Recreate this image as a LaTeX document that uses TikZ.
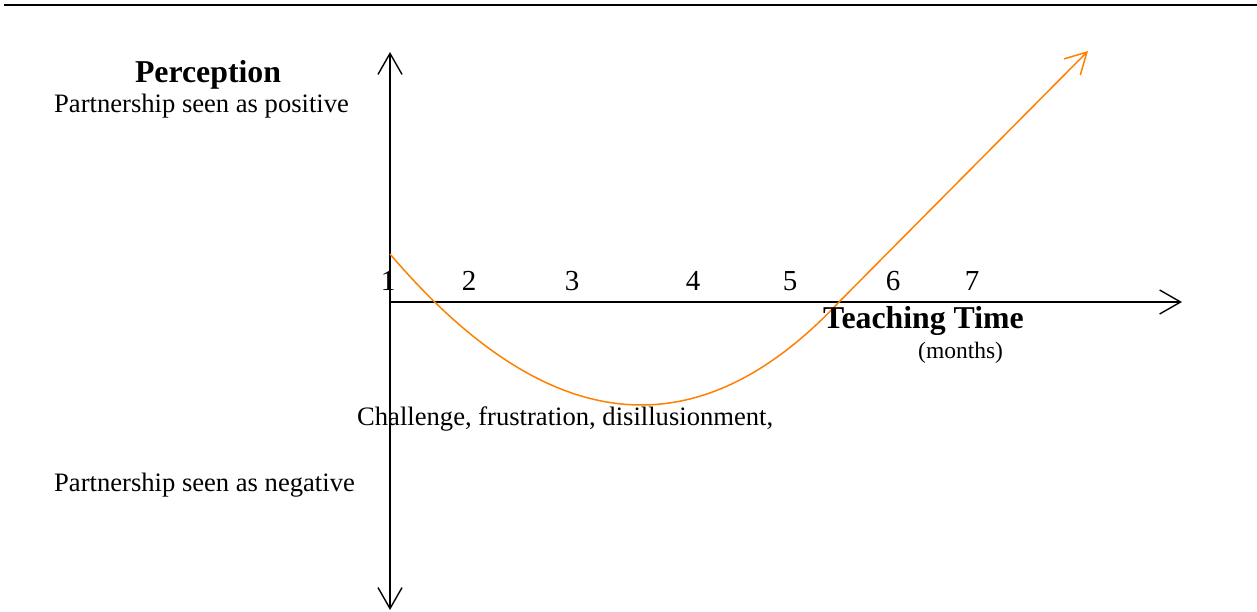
\documentclass[tikz,border=0pt]{standalone}
\usepackage{fontspec}
\setmainfont{Liberation Serif}
\usetikzlibrary{arrows.meta}
\definecolor{curveorange}{RGB}{255,128,0}
\begin{document}
\begin{tikzpicture}[x=1pt,y=-1pt,
  axis/.style={line width=1.4pt,black,-{Straight Barb[length=21pt,width=24pt,line width=1.4pt]}},
  curve/.style={line width=1.5pt,curveorange},
  lbl/.style={inner sep=0pt,font=\fontsize{26.6}{30}\selectfont},
  num/.style={inner sep=0pt,font=\fontsize{29}{32}\selectfont},
  bold/.style={inner sep=0pt,font=\fontsize{31.8}{35}\selectfont\bfseries},
  small/.style={inner sep=0pt,font=\fontsize{23.5}{26}\selectfont}]
\useasboundingbox (0,0) rectangle (1257,612);
% top rule
\coordinate (rl) at (4,5);
\coordinate (rr) at (1257,5);
\draw[line width=2.4pt] (rl) -- (rr);
% axes
\coordinate (o) at (390,302);
\coordinate (yt) at (390,52);
\coordinate (yb) at (390,610);
\coordinate (xr) at (1182,302);
\draw[axis] (o) -- (yt);
\draw[axis] (o) -- (yb);
\draw[axis] (o) -- (xr);
% curve
\coordinate (c0) at (390,254);
\coordinate (c1) at (840,301);
\coordinate (c2) at (1088,51);
\draw[curve,-{Straight Barb[length=21pt,width=23pt,line width=1.5pt]}]
  (c0) .. controls (547,438) and (697,454) .. (c1) -- (c2);
% labels
\node[bold,anchor=base] (perc) at (208,83) {Perception};
\node[lbl,anchor=base west] (pos) at (54,113) {Partnership seen as positive};
\node[lbl,anchor=base west] (neg) at (54,491) {Partnership seen as negative};
\node[lbl,anchor=base west] (chal) at (357,425) {Challenge, frustration, disillusionment,};
\node[bold,anchor=base west] (tt) at (823,328) {Teaching Time};
\node[small,anchor=base west] (mon) at (918,358) {(months)};
% numbers
\node[num,anchor=base] (n1) at (388,290) {1};
\node[num,anchor=base] (n2) at (469,290) {2};
\node[num,anchor=base] (n3) at (572,290) {3};
\node[num,anchor=base] (n4) at (693,290) {4};
\node[num,anchor=base] (n5) at (790,290) {5};
\node[num,anchor=base] (n6) at (893,290) {6};
\node[num,anchor=base] (n7) at (972,290) {7};
\end{tikzpicture}
\end{document}
